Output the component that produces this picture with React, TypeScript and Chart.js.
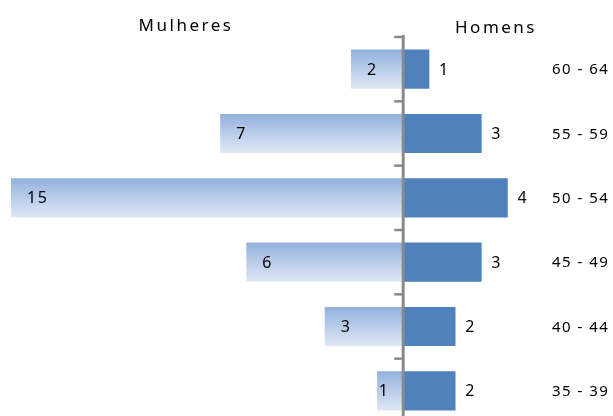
import React, { useEffect, useRef } from "react";
import { Chart, registerables } from "chart.js";

Chart.register(...registerables);

const ageGroups = ["60 - 64", "55 - 59", "50 - 54", "45 - 49", "40 - 44", "35 - 39"];
const women = [2, 7, 15, 6, 3, 1];
const men = [1, 3, 4, 3, 2, 2];
const titleWomen = "Mulheres";
const titleMen = "Homens";

const FONT = "'Noto Sans', 'Open Sans', sans-serif";

export default function App() {
  const ref = useRef<HTMLCanvasElement | null>(null);

  useEffect(() => {
    const canvas = ref.current;
    if (!canvas) return;

    const overlay = {
      id: "pyramidOverlay",
      afterDatasetsDraw(chart: any) {
        const { ctx, chartArea, scales } = chart;
        const x = scales.x;
        const y = scales.y;
        const x0 = x.getPixelForValue(0);
        const step = (chartArea.bottom - chartArea.top) / ageGroups.length;
        ctx.save();
        // axis line
        ctx.strokeStyle = "#8a8a8a";
        ctx.lineWidth = 3;
        ctx.beginPath();
        ctx.moveTo(x0, chartArea.top - 2);
        ctx.lineTo(x0, chart.height);
        ctx.stroke();
        // tick marks
        ctx.lineWidth = 2.5;
        for (let k = 0; k <= ageGroups.length; k++) {
          const ty = chartArea.top + k * step;
          ctx.beginPath();
          ctx.moveTo(x0 - 9, ty);
          ctx.lineTo(x0, ty);
          ctx.stroke();
        }
        // data labels
        ctx.fillStyle = "#000";
        ctx.font = `16px ${FONT}`;
        ctx.textBaseline = "middle";
        (ctx as any).letterSpacing = "1.5px";
        women.forEach((v, i) => {
          const yc = y.getPixelForValue(i) + 1;
          const left = x.getPixelForValue(-v);
          const width = x0 - left;
          if (width >= 40) {
            ctx.textAlign = "left";
            ctx.fillText(String(v), left + 16, yc);
          } else {
            ctx.textAlign = "center";
            ctx.fillText(String(v), (left + x0) / 2 - 6, yc);
          }
        });
        ctx.textAlign = "center";
        men.forEach((v, i) => {
          const yc = y.getPixelForValue(i) + 1;
          const right = x.getPixelForValue(v);
          ctx.fillText(String(v), right + 15, yc);
        });
        // category labels
        ctx.textAlign = "left";
        ctx.font = `15px ${FONT}`;
        (ctx as any).letterSpacing = "1.5px";
        ageGroups.forEach((g, i) => {
          const yc = y.getPixelForValue(i) + 1;
          ctx.fillText(g, chartArea.right + 5, yc);
        });
        // titles
        ctx.font = `17px ${FONT}`;
        (ctx as any).letterSpacing = "2.5px";
        ctx.textAlign = "center";
        ctx.fillText(titleWomen, 186, 26);
        ctx.fillText(titleMen, 496, 28);
        ctx.restore();
      },
    };

    const chart = new Chart(canvas, {
      type: "bar",
      data: {
        labels: ageGroups,
        datasets: [
          {
            label: titleWomen,
            data: women.map((v) => -v),
            backgroundColor: (c: any) => {
              const chartRef = c.chart;
              const area = chartRef.chartArea;
              const yScale = chartRef.scales?.y;
              if (!area || !yScale || c.dataIndex === undefined) return "#b7cbe8";
              const yc = yScale.getPixelForValue(c.dataIndex);
              const half = ((area.bottom - area.top) / ageGroups.length) * 0.61 / 2;
              if (!isFinite(yc) || !isFinite(half)) return "#b7cbe8";
              const g = chartRef.ctx.createLinearGradient(0, yc - half, 0, yc + half);
              g.addColorStop(0, "#93b1dd");
              g.addColorStop(1, "#e0e8f5");
              return g;
            },
            borderWidth: 0,
            barPercentage: 0.61,
            categoryPercentage: 1,
          },
          {
            label: titleMen,
            data: men,
            backgroundColor: "#4f81bd",
            borderWidth: 0,
            barPercentage: 0.61,
            categoryPercentage: 1,
          },
        ],
      },
      options: {
        indexAxis: "y",
        responsive: false,
        animation: false,
        layout: { padding: { left: 11, right: 66, top: 37, bottom: 17 } },
        scales: {
          x: { stacked: true, min: -15, max: 5.5, display: false },
          y: { stacked: true, display: false, offset: true },
        },
        plugins: {
          legend: { display: false },
          tooltip: { enabled: false },
        },
      },
      plugins: [overlay],
    } as any);

    return () => chart.destroy();
  }, []);

  return (
    <div style={{ position: "fixed", left: 0, top: 0, width: 613, height: 440, background: "#fff" }}>
      <canvas ref={ref} width={613} height={440} style={{ display: "block", width: 613, height: 440 }} />
    </div>
  );
}
